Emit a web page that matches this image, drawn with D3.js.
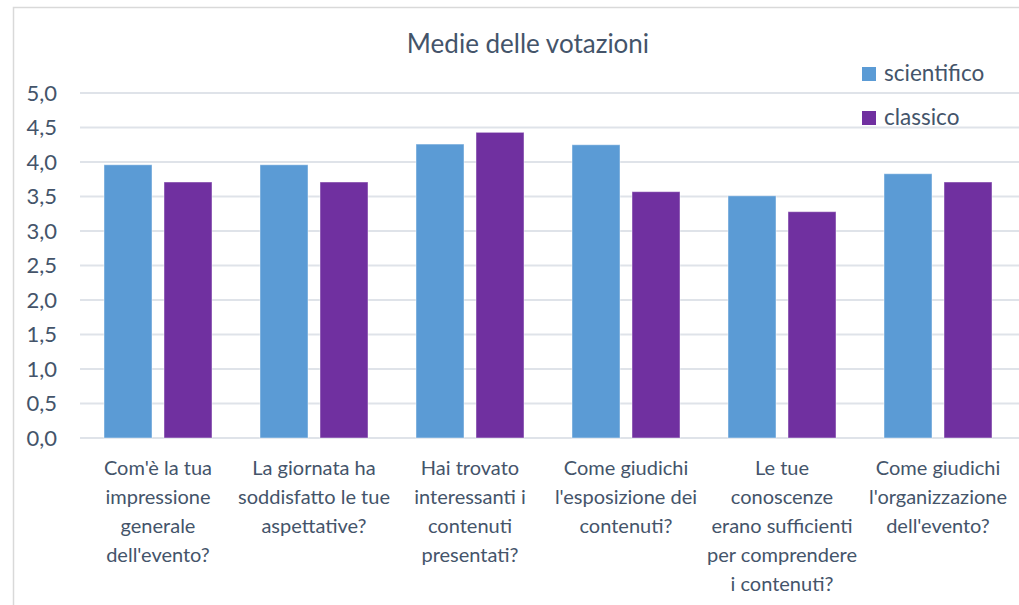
<!DOCTYPE html>
<html>
<head>
<meta charset="utf-8">
<script src="https://cdn.jsdelivr.net/npm/d3@7"></script>
<style>
    body { margin: 0; background: #fff; }
    svg text { font-family: Lato, 'Open Sans', sans-serif; fill: #44546a; }
</style>
</head>
<body>
<svg id="chart" width="1019" height="605"></svg>
<script>
// data
let categories = [
    ["Com'è la tua", "impressione", "generale", "dell'evento?"],
    ["La giornata ha", "soddisfatto le tue", "aspettative?"],
    ["Hai trovato", "interessanti i", "contenuti", "presentati?"],
    ["Come giudichi", "l'esposizione dei", "contenuti?"],
    ["Le tue", "conoscenze", "erano sufficienti", "per comprendere", "i contenuti?"],
    ["Come giudichi", "l'organizzazione", "dell'evento?"]
]
let series_names = ['scientifico', 'classico']
let scientifico = [3.96, 3.96, 4.26, 4.25, 3.51, 3.83]
let classico = [3.71, 3.71, 4.43, 3.57, 3.28, 3.71]
let y_ticks = [0, 0.5, 1, 1.5, 2, 2.5, 3, 3.5, 4, 4.5, 5]
let colors = { 'scientifico': '#5b9bd5', 'classico': '#7030a0' }

let xpad_l = 80
let xpad_r = 3
let ypad_t = 93
let ypad_b = 167

let svg = d3.select('#chart')
let width = +svg.attr('width')
let height = +svg.attr('height')

// chart frame
svg.append('rect')
    .attr('x', 13.5).attr('y', 7.5)
    .attr('width', width + 20).attr('height', height + 20)
    .attr('fill', 'none')
    .attr('stroke', '#d9d9d9')
    .attr('stroke-width', 1.5)

let x = d3.scaleBand()
    .domain(d3.range(categories.length))
    .range([xpad_l, width - xpad_r])

let x_inner = d3.scaleBand()
    .domain(series_names)
    .range([24, x.bandwidth() - 24])
    .paddingInner(0.2)

let y = d3.scaleLinear()
    .domain([0, 5])
    .range([height - ypad_b, ypad_t])

// gridlines
svg.append('g')
    .selectAll('line')
    .data(y_ticks)
    .join('line')
    .attr('x1', xpad_l).attr('x2', width)
    .attr('y1', d => y(d)).attr('y2', d => y(d))
    .attr('stroke', '#dfe3e9')
    .attr('stroke-width', 2)

// y axis labels
let fmt = d => d3.format('.1f')(d).replace('.', ',')
svg.append('g')
    .selectAll('text')
    .data(y_ticks)
    .join('text')
    .attr('x', 57)
    .attr('y', d => y(d))
    .attr('dy', '0.36em')
    .attr('text-anchor', 'end')
    .style('font-size', '22px')
    .text(fmt)

// bars
let rows = categories.map((c, i) => ({ i: i, scientifico: scientifico[i], classico: classico[i] }))

let groups = svg.append('g')
    .selectAll('g')
    .data(rows)
    .join('g')
    .attr('transform', d => `translate(${x(d.i)},0)`)

groups.selectAll('rect')
    .data(d => series_names.map(s => ({ key: s, value: d[s] })))
    .join('rect')
    .attr('x', d => x_inner(d.key))
    .attr('width', x_inner.bandwidth())
    .attr('y', d => y(d.value))
    .attr('height', d => y(0) - y(d.value))
    .attr('fill', d => colors[d.key])
    .attr('stroke', 'rgba(255,255,255,0.45)')
    .attr('stroke-width', 1)

// x labels
let labels = svg.append('g')
    .selectAll('text')
    .data(categories)
    .join('text')
    .attr('text-anchor', 'middle')
    .style('font-size', '20px')

labels.selectAll('tspan')
    .data((d, i) => d.map(line => ({ line: line, i: i })))
    .join('tspan')
    .attr('x', d => x(d.i) + x.bandwidth() / 2)
    .attr('y', (d, j) => 475 + j * 29)
    .text(d => d.line)

// title
svg.append('text')
    .attr('x', 528)
    .attr('y', 53)
    .attr('text-anchor', 'middle')
    .style('font-size', '26px')
    .text('Medie delle votazioni')

// legend
let legend = svg.append('g')
    .attr('transform', 'translate(862, 67)')

let legend_items = legend.selectAll('g')
    .data(series_names)
    .join('g')
    .attr('transform', (d, i) => `translate(0, ${i * 44})`)

legend_items.append('rect')
    .attr('width', 14).attr('height', 14)
    .attr('fill', d => colors[d])

legend_items.append('text')
    .attr('x', 22)
    .attr('y', 14)
    .style('font-size', '22.5px')
    .text(d => d)
</script>
</body>
</html>
